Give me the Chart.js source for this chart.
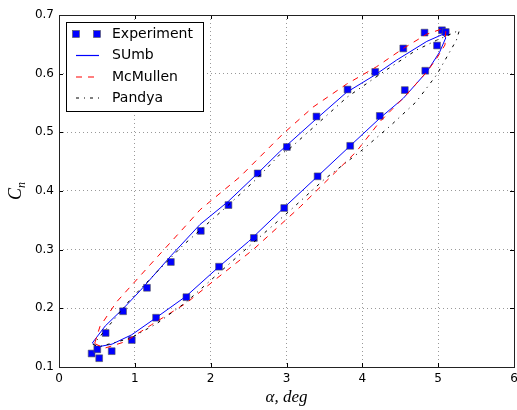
<!DOCTYPE html>
<html><head><meta charset="utf-8">
<script src="https://cdn.jsdelivr.net/npm/chart.js@4/dist/chart.umd.min.js"></script>
<style>html,body{margin:0;padding:0;background:#fff}#wrap{width:517px;height:410px}</style>
</head><body><div id="wrap"><canvas id="c" width="517" height="410"></canvas></div>
<script>
const xTicks=[0,1,2,3,4,5,6];
const yTicks=[0.1,0.2,0.3,0.4,0.5,0.6,0.7];
const seriesNames=['Experiment','SUmb','McMullen','Pandya'];
const xLabel='α, deg';
const yLabelMain='C', yLabelSub='n';

const expAlpha=[0.43,0.505,0.53,0.615,0.695,0.845,0.96,1.16,1.28,1.475,1.68,1.87,2.11,2.235,2.57,2.62,2.97,3.005,3.395,3.41,3.805,3.84,4.17,4.23,4.54,4.56,4.82,4.83,4.985,5.05,5.10];
const expCn=[0.123,0.130,0.115,0.158,0.127,0.195,0.146,0.235,0.184,0.279,0.219,0.332,0.271,0.376,0.320,0.430,0.371,0.475,0.527,0.425,0.573,0.477,0.603,0.528,0.643,0.572,0.670,0.605,0.648,0.674,0.671];

const sumbAlpha=[0.44,0.50,0.70,0.96,1.28,1.68,2.11,2.50,2.97,3.41,3.84,4.23,4.54,4.85,5.02,5.10,5.06,4.85,4.45,4.17,3.79,3.35,2.91,2.62,2.23,1.86,1.48,1.07,0.85,0.61,0.44];
const sumbCn=[0.141,0.134,0.139,0.155,0.184,0.221,0.271,0.314,0.372,0.425,0.477,0.524,0.558,0.603,0.637,0.661,0.667,0.655,0.623,0.598,0.568,0.518,0.467,0.430,0.382,0.343,0.290,0.230,0.200,0.170,0.141];

const mcmAlpha=[0.47,0.60,0.87,1.22,1.68,2.08,2.56,3.18,3.92,4.23,4.56,4.85,4.98,5.09,5.10,5.065,4.845,4.54,4.19,3.79,3.35,2.95,2.385,1.86,1.68,1.20,0.76,0.54,0.47];
const mcmCn=[0.140,0.132,0.143,0.172,0.209,0.251,0.300,0.373,0.467,0.518,0.561,0.603,0.626,0.649,0.672,0.677,0.667,0.643,0.612,0.582,0.543,0.497,0.424,0.368,0.342,0.274,0.211,0.169,0.140];

const panAlpha=[0.45,0.54,0.94,1.29,1.68,2.08,2.50,3.04,3.50,4.00,4.36,4.71,4.98,5.24,5.28,4.98,4.71,4.30,3.80,3.04,2.91,2.60,2.20,1.64,1.29,0.94,0.72,0.54,0.45];
const panCn=[0.138,0.135,0.149,0.174,0.211,0.257,0.305,0.366,0.420,0.470,0.510,0.552,0.598,0.657,0.674,0.657,0.640,0.605,0.560,0.472,0.462,0.420,0.372,0.308,0.262,0.215,0.180,0.152,0.138];

const pts=(a,b)=>a.map((v,i)=>({x:v,y:b[i]}));

const styles=[
  {type:'marker',color:'#0000ff'},
  {type:'line',color:'#0000ff',dash:[]},
  {type:'line',color:'#ff0000',dash:[6,6]},
  {type:'line',color:'#000000',dash:[3,5,1,5]}
];

const framePlugin={
  id:'frame',
  afterDraw(chart){
    const ctx=chart.ctx, a=chart.chartArea;
    const xs=chart.scales.x, ys=chart.scales.y;
    ctx.save();
    ctx.strokeStyle='#000';ctx.lineWidth=1;ctx.setLineDash([]);
    ctx.beginPath();
    xTicks.forEach(v=>{const p=Math.round(xs.getPixelForValue(v))+0.5;
      ctx.moveTo(p,a.bottom);ctx.lineTo(p,a.bottom-4);
      ctx.moveTo(p,a.top);ctx.lineTo(p,a.top+4);});
    yTicks.forEach(v=>{const p=Math.round(ys.getPixelForValue(v))+0.5;
      ctx.moveTo(a.left,p);ctx.lineTo(a.left+4,p);
      ctx.moveTo(a.right,p);ctx.lineTo(a.right-4,p);});
    ctx.stroke();
    ctx.strokeStyle='#222';
    ctx.strokeRect(Math.round(a.left)+0.5,Math.round(a.top)+0.5,Math.round(a.right-a.left),Math.round(a.bottom-a.top));
    // legend
    const bx=66.5,by=22.5,bw=137,bh=89;
    ctx.fillStyle='#fff';ctx.fillRect(bx,by,bw,bh);
    ctx.strokeStyle='#000';ctx.lineWidth=1;ctx.strokeRect(bx,by,bw,bh);
    const rowY=[34,55.5,77,98];
    ctx.font='14px "DejaVu Sans"';ctx.textBaseline='middle';ctx.textAlign='left';
    seriesNames.forEach((n,i)=>{
      const s=styles[i], y=rowY[i];
      if(s.type==='marker'){
        [76,97].forEach(cx=>{ctx.fillStyle=s.color;ctx.fillRect(cx-3.5,y-3.5,7,7);
          ctx.strokeStyle='#555';ctx.lineWidth=0.6;ctx.strokeRect(cx-3.5,y-3.5,7,7);});
      } else {
        ctx.save();
        ctx.strokeStyle=s.color;ctx.lineWidth=1.2;ctx.setLineDash(s.dash);
        ctx.beginPath();ctx.moveTo(76,y);ctx.lineTo(99,y);ctx.stroke();
        ctx.restore();
      }
      ctx.fillStyle='#000';ctx.fillText(n,112,y);
    });
    // x label
    ctx.font='italic 17px "Liberation Serif"';ctx.textAlign='center';ctx.textBaseline='alphabetic';
    ctx.fillText(xLabel,(a.left+a.right)/2,402);
    // y label
    ctx.translate(21,(a.top+a.bottom)/2);ctx.rotate(-Math.PI/2);
    ctx.textAlign='left';
    ctx.font='italic 18px "Liberation Serif"';
    const w=ctx.measureText(yLabelMain).width;
    ctx.font='italic 12px "Liberation Serif"';
    const w2=ctx.measureText(yLabelSub).width;
    const x0=-(w+w2)/2;
    ctx.font='italic 18px "Liberation Serif"';ctx.fillText(yLabelMain,x0,0);
    ctx.font='italic 12px "Liberation Serif"';ctx.fillText(yLabelSub,x0+w,4);
    ctx.restore();
  }
};

new Chart(document.getElementById('c'),{
  type:'scatter',
  data:{datasets:[
    {label:seriesNames[0],data:pts(expAlpha,expCn),showLine:false,pointStyle:'rect',pointRadius:4.8,
      backgroundColor:'#0000ff',borderColor:'#555',borderWidth:0.6,order:4},
    {label:seriesNames[1],data:pts(sumbAlpha,sumbCn),showLine:true,pointRadius:0,borderColor:'#0000ff',borderWidth:1,tension:0,order:3},
    {label:seriesNames[2],data:pts(mcmAlpha,mcmCn),showLine:true,pointRadius:0,borderColor:'#ff0000',borderWidth:1,borderDash:[6,6],tension:0,order:2},
    {label:seriesNames[3],data:pts(panAlpha,panCn),showLine:true,pointRadius:0,borderColor:'#000000',borderWidth:1,borderDash:[3,5,1,5],tension:0,order:1}
  ]},
  options:{
    responsive:false,animation:false,devicePixelRatio:1,
    layout:{autoPadding:false,padding:{top:15,right:3,left:0,bottom:0}},
    plugins:{legend:{display:false},tooltip:{enabled:false}},
    scales:{
      x:{type:'linear',min:0,max:6,
        afterBuildTicks:s=>{s.ticks=xTicks.map(v=>({value:v}));},
        afterFit:s=>{s.height=43;s.paddingLeft=0;s.paddingRight=0;},
        ticks:{color:'#000',font:{family:'DejaVu Sans',size:12},padding:5,callback:v=>String(v),maxRotation:0},
        grid:{color:'#999',lineWidth:1,drawTicks:false},
        border:{display:false,dash:[1,3]}},
      y:{type:'linear',min:0.1,max:0.7,
        afterBuildTicks:s=>{s.ticks=yTicks.map(v=>({value:v}));},
        afterFit:s=>{s.width=59;s.paddingTop=0;s.paddingBottom=0;},
        ticks:{color:'#000',font:{family:'DejaVu Sans',size:12},padding:5,callback:v=>Number(v).toFixed(1)},
        grid:{color:'#999',lineWidth:1,drawTicks:false},
        border:{display:false,dash:[1,3]}}
    }
  },
  plugins:[framePlugin]
});
</script></body></html>
